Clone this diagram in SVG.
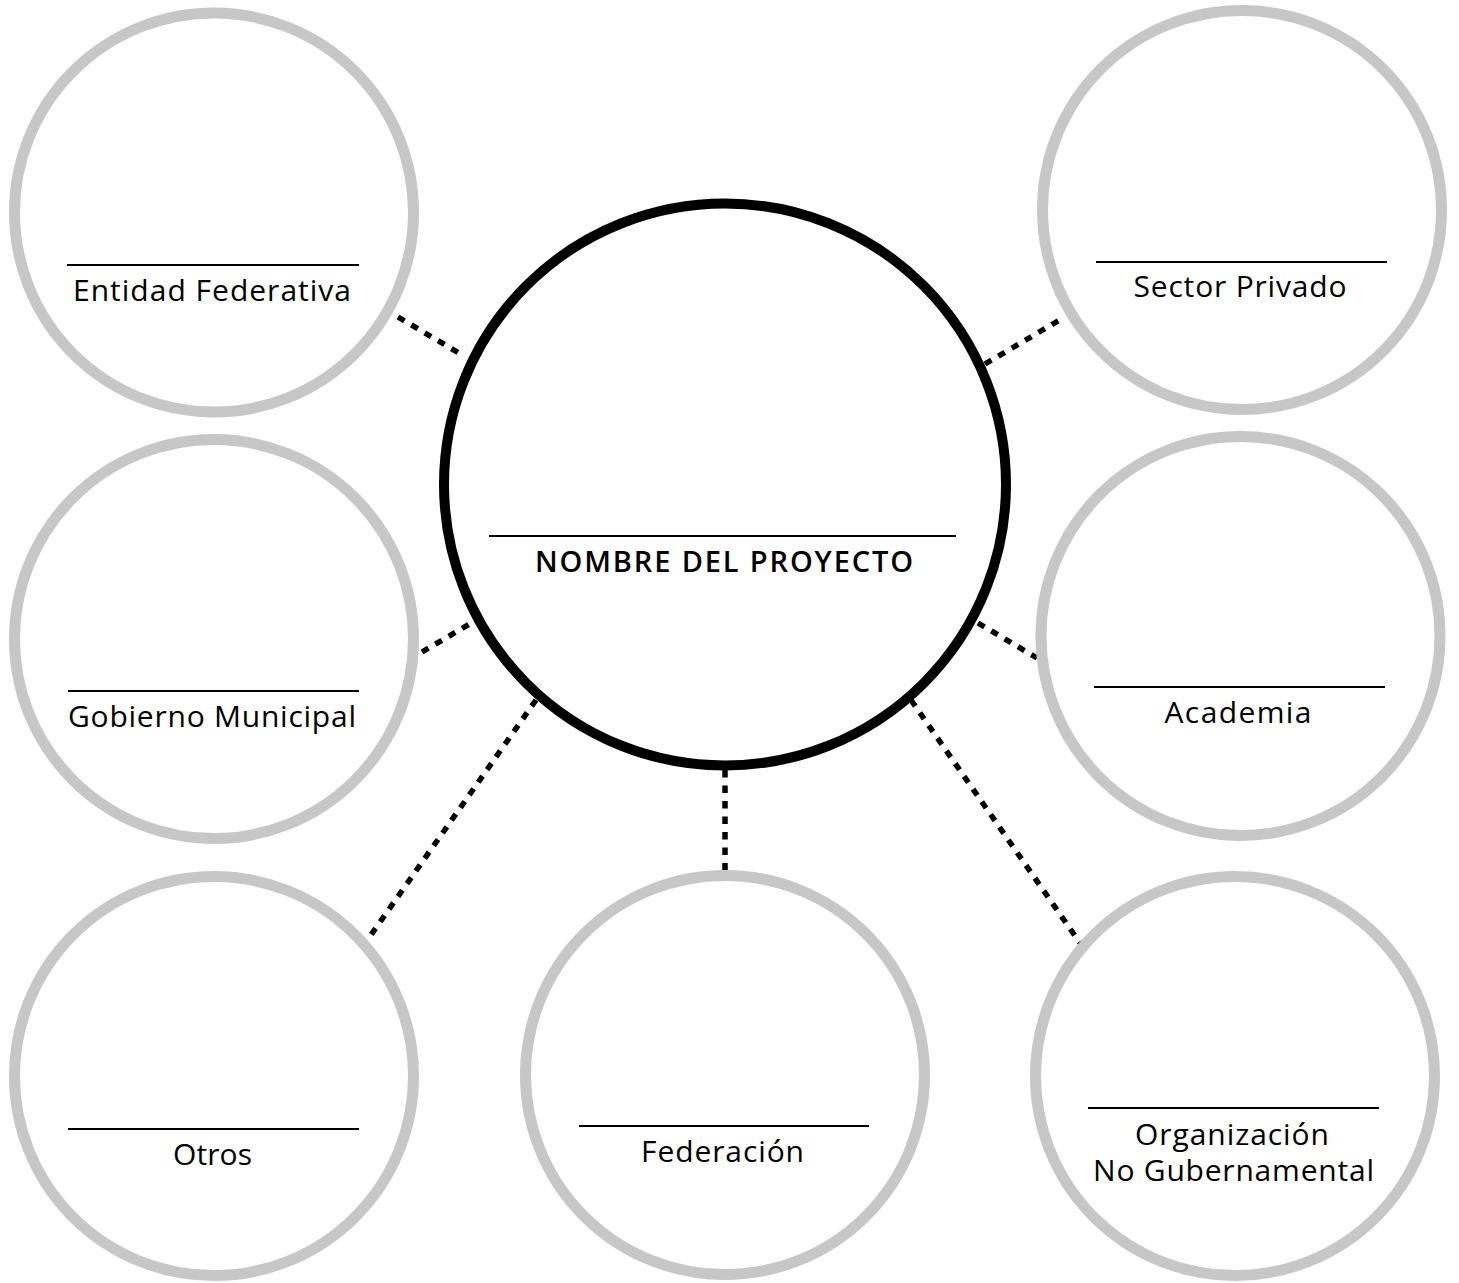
<svg xmlns="http://www.w3.org/2000/svg" width="1459" height="1283" viewBox="0 0 1459 1283">
<style>
.sat{fill:#ffffff;stroke:#c7c7c7;stroke-width:11}
.hub{fill:#ffffff;stroke:#000000;stroke-width:10}
.rule{stroke:#000000;stroke-width:1.8}
.lbl{font-family:"Open Sans","Liberation Sans",sans-serif;font-size:30px;fill:#000000;text-anchor:middle}
.title{font-family:"Open Sans","Liberation Sans",sans-serif;font-size:29px;font-weight:600;fill:#000000;text-anchor:middle}
.conn{stroke:#000000;stroke-width:5.5;stroke-dasharray:7.5 8;fill:none}
</style>
<rect width="1459" height="1283" fill="#ffffff"/>
<g id="connectors">
<line class="conn" x1="398" y1="317" x2="464" y2="356"/>
<line class="conn" x1="985" y1="364" x2="1063" y2="318"/>
<line class="conn" x1="422" y1="652" x2="473" y2="622"/>
<line class="conn" x1="978" y1="623" x2="1037" y2="658"/>
<line class="conn" x1="536" y1="700" x2="366" y2="942"/>
<line class="conn" x1="725" y1="770" x2="725" y2="872"/>
<line class="conn" x1="911" y1="700" x2="1080" y2="943"/>
</g>
<g id="node-proyecto">
<circle class="hub" cx="725" cy="484.5" r="281"/>
<line class="rule" x1="489" y1="536" x2="956" y2="536"/>
<text class="title" x="724" y="572" textLength="378">NOMBRE DEL PROYECTO</text>
</g>
<g id="node-entidad">
<circle class="sat" cx="214" cy="212.5" r="199.5"/>
<line class="rule" x1="67" y1="265" x2="359" y2="265"/>
<text class="lbl" x="212" y="301" textLength="278">Entidad Federativa</text>
</g>
<g id="node-sector">
<circle class="sat" cx="1242" cy="210" r="199.5"/>
<line class="rule" x1="1096" y1="262" x2="1387" y2="262"/>
<text class="lbl" x="1240" y="297" textLength="213">Sector Privado</text>
</g>
<g id="node-gobierno">
<circle class="sat" cx="214" cy="639" r="199.5"/>
<line class="rule" x1="68" y1="691" x2="359" y2="691"/>
<text class="lbl" x="212" y="727" textLength="288">Gobierno Municipal</text>
</g>
<g id="node-academia">
<circle class="sat" cx="1240.5" cy="636" r="199.5"/>
<line class="rule" x1="1094" y1="687" x2="1385" y2="687"/>
<text class="lbl" x="1238" y="723" textLength="147">Academia</text>
</g>
<g id="node-otros">
<circle class="sat" cx="214" cy="1076" r="199.5"/>
<line class="rule" x1="68" y1="1129" x2="359" y2="1129"/>
<text class="lbl" x="212.5" y="1165" textLength="79">Otros</text>
</g>
<g id="node-federacion">
<circle class="sat" cx="725" cy="1075" r="199.5"/>
<line class="rule" x1="579" y1="1126" x2="869" y2="1126"/>
<text class="lbl" x="722.5" y="1162" textLength="163">Federación</text>
</g>
<g id="node-ong">
<circle class="sat" cx="1235" cy="1076" r="199.5"/>
<line class="rule" x1="1088" y1="1108" x2="1379" y2="1108"/>
<text class="lbl" x="1232" y="1145" textLength="194">Organización</text>
<text class="lbl" x="1233.5" y="1181" textLength="281">No Gubernamental</text>
</g>
</svg>
